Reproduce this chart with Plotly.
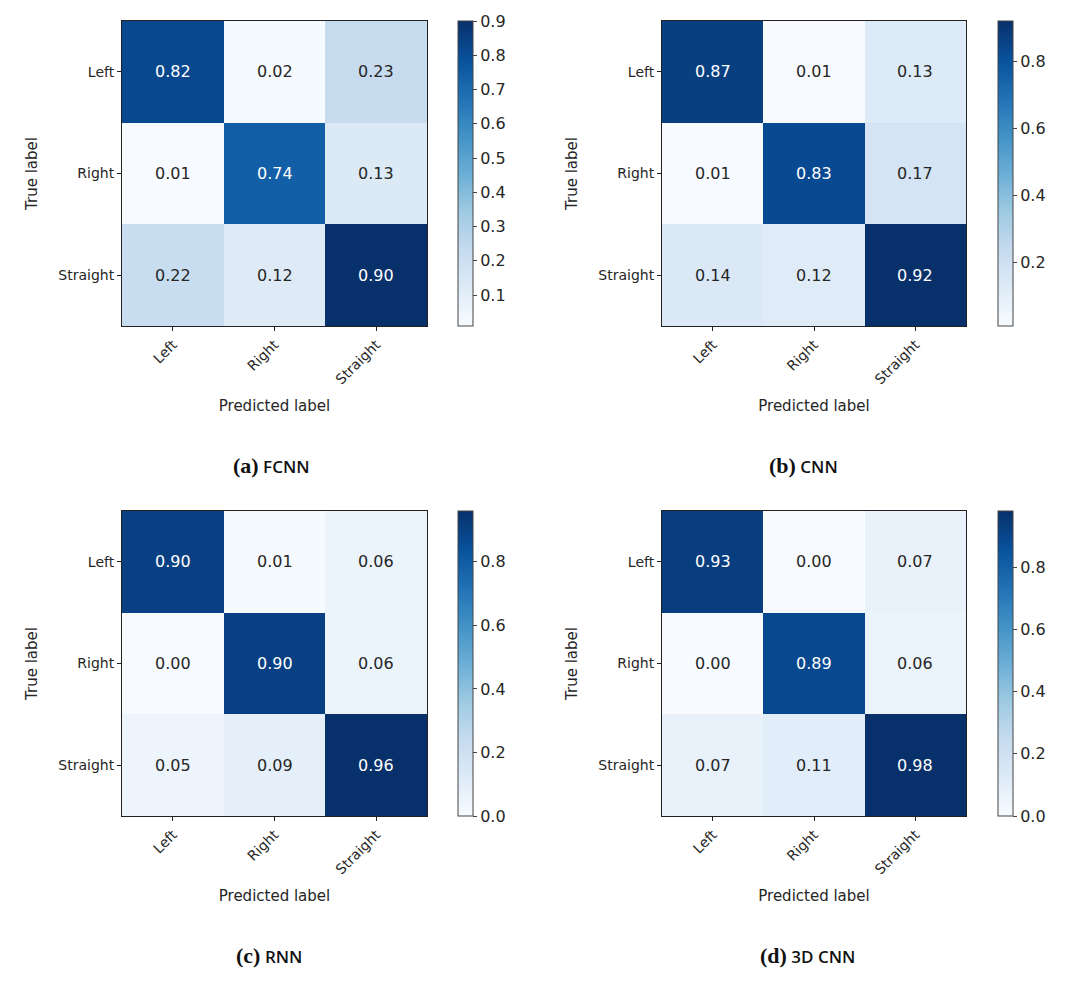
import plotly.graph_objects as go

W, H = 1080, 981
OFF = 8  # page body margin

labels = ["Left", "Right", "Straight"]

fcnn = [[0.82, 0.02, 0.23],
        [0.01, 0.74, 0.13],
        [0.22, 0.12, 0.90]]
cnn = [[0.87, 0.01, 0.13],
       [0.01, 0.83, 0.17],
       [0.14, 0.12, 0.92]]
rnn = [[0.90, 0.01, 0.06],
       [0.00, 0.90, 0.06],
       [0.05, 0.09, 0.96]]
cnn3d = [[0.93, 0.00, 0.07],
         [0.00, 0.89, 0.06],
         [0.07, 0.11, 0.98]]

panel_data = [fcnn, cnn, rnn, cnn3d]
cbar_dticks = [0.1, 0.2, 0.2, 0.2]
caption_letters = ["(a)", "(b)", "(c)", "(d)"]
caption_names = ["FCNN", "CNN", "RNN", "3D CNN"]

blues = ['rgb(247,251,255)', 'rgb(222,235,247)', 'rgb(198,219,239)',
         'rgb(158,202,225)', 'rgb(107,174,214)', 'rgb(66,146,198)',
         'rgb(33,113,181)', 'rgb(8,81,156)', 'rgb(8,48,107)']
cscale = [[i / (len(blues) - 1), c] for i, c in enumerate(blues)]

# pixel layout (left, right, top, bottom) of each heatmap on the page
boxes = [(122, 427, 21, 326), (662, 966, 21, 326),
         (122, 427, 511, 816), (662, 966, 511, 816)]
cbar_left = [458, 998, 458, 998]
caption_pos = [(271, 465), (803, 465), (269, 955), (807, 955)]

FW, FH = W - 2 * OFF, H - 2 * OFF

FONT = "DejaVu Sans"
TXT = "#262626"

fig = go.Figure()
layout = dict(width=FW, height=FH, margin=dict(l=0, r=0, t=0, b=0),
              paper_bgcolor="white", plot_bgcolor="white",
              font=dict(family=FONT, size=14, color=TXT), showlegend=False)
annotations = []


def px(x):
    return (x - OFF) / FW


def py(y):
    return 1 - (y - OFF) / FH


for k, (z, box) in enumerate(zip(panel_data, boxes)):
    l, r, t, b = box
    xa = "xaxis" if k == 0 else f"xaxis{k+1}"
    ya = "yaxis" if k == 0 else f"yaxis{k+1}"
    xref = "x" if k == 0 else f"x{k+1}"
    yref = "y" if k == 0 else f"y{k+1}"
    flat = [v for row in z for v in row]
    zmin, zmax = min(flat), max(flat)
    fig.add_trace(go.Heatmap(
        z=z, x=labels, y=labels, xaxis=xref, yaxis=yref,
        colorscale=cscale, zmin=zmin, zmax=zmax, xgap=0, ygap=0,
        hoverinfo="skip",
        colorbar=dict(
            x=px(cbar_left[k]), xanchor="left", thickness=15,
            thicknessmode="pixels", xpad=0, ypad=0,
            len=(b - t) / FH, lenmode="fraction",
            y=py((t + b) / 2), yanchor="middle",
            outlinecolor="#444", outlinewidth=1,
            ticks="outside", ticklen=4, tickcolor="#444",
            tick0=0, dtick=cbar_dticks[k], tickformat=".1f",
            tickfont=dict(family=FONT, size=16, color=TXT),
        ),
    ))
    layout[xa] = dict(domain=[px(l), px(r)], anchor=yref,
                      showline=True, mirror=True, linecolor="#222", linewidth=1,
                      ticks="outside", ticklen=4, tickcolor="#222",
                      tickangle=-45, tickfont=dict(family=FONT, size=14, color=TXT),
                      showgrid=False, zeroline=False,
                      title=dict(text="Predicted label", standoff=14,
                                 font=dict(family=FONT, size=15, color=TXT)))
    layout[ya] = dict(domain=[py(b), py(t)], anchor=xref,
                      autorange="reversed",
                      showline=True, mirror=True, linecolor="#222", linewidth=1,
                      ticks="outside", ticklen=4, tickcolor="#222",
                      tickfont=dict(family=FONT, size=14, color=TXT),
                      showgrid=False, zeroline=False,
                      title=dict(text="True label", standoff=17,
                                 font=dict(family=FONT, size=15, color=TXT)))
    thresh = zmax / 2
    for i, row in enumerate(z):
        for j, v in enumerate(row):
            annotations.append(dict(
                x=labels[j], y=labels[i], xref=xref, yref=yref,
                text=f"{v:.2f}", showarrow=False,
                font=dict(family=FONT, size=16,
                          color="white" if v > thresh else TXT)))
    cx, cy = caption_pos[k]
    annotations.append(dict(
        x=px(cx), y=py(cy), xref="paper", yref="paper",
        text=(f"<b><span style='font-family:Liberation Serif;font-size:22px'>"
              f"{caption_letters[k]}</span></b> "
              f"<span style='font-family:Open Sans;font-size:17px;font-weight:600'>"
              f"{caption_names[k]}</span>"),
        showarrow=False, xanchor="center", yanchor="middle",
        font=dict(color="#111")))

layout["annotations"] = annotations
fig.update_layout(**layout)
fig.write_html("out.html")
